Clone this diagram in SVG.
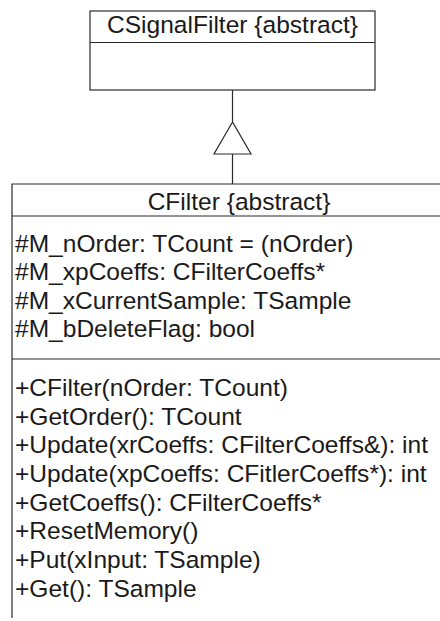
<svg xmlns="http://www.w3.org/2000/svg" width="440" height="621" viewBox="0 0 440 621">
  <style>
    .box { fill: #ffffff; stroke: #2a2a2a; stroke-width: 1.2; }
    .line { fill: none; stroke: #2a2a2a; stroke-width: 1.2; }
    .txt { font-family: "Liberation Sans", Arial, sans-serif; font-size: 23.5px; fill: #1a1a1a; }
    .title { text-anchor: middle; }
  </style>
  <rect width="440" height="621" fill="#ffffff"/>

  <!-- base class -->
  <g id="CSignalFilter">
    <rect class="box" x="90" y="11" width="285" height="79"/>
    <line class="line" x1="90" y1="42.5" x2="375" y2="42.5"/>
    <text class="txt title" transform="translate(232.5 33) scale(1.045 1)">CSignalFilter {abstract}</text>
  </g>

  <!-- derived class, running off the right and bottom edges -->
  <g id="CFilter">
    <path class="line" d="M470,184 H12 V618"/>
    <line class="line" x1="12" y1="216" x2="470" y2="216"/>
    <line class="line" x1="12" y1="359" x2="470" y2="359"/>
    <text class="txt title" transform="translate(239 210) scale(1.045 1)">CFilter {abstract}</text>
    <g transform="translate(15 0) scale(1.045 1)">
      <text class="txt" x="0" y="252">#M_nOrder: TCount = (nOrder)</text>
      <text class="txt" x="0" y="280.5">#M_xpCoeffs: CFilterCoeffs*</text>
      <text class="txt" x="0" y="309">#M_xCurrentSample: TSample</text>
      <text class="txt" x="0" y="337.5">#M_bDeleteFlag: bool</text>
      <text class="txt" x="0" y="396">+CFilter(nOrder: TCount)</text>
      <text class="txt" x="0" y="424.7">+GetOrder(): TCount</text>
      <text class="txt" x="0" y="453.4">+Update(xrCoeffs: CFilterCoeffs&amp;): int</text>
      <text class="txt" x="0" y="482">+Update(xpCoeffs: CFitlerCoeffs*): int</text>
      <text class="txt" x="0" y="510.8">+GetCoeffs(): CFilterCoeffs*</text>
      <text class="txt" x="0" y="539.5">+ResetMemory()</text>
      <text class="txt" x="0" y="568.2">+Put(xInput: TSample)</text>
      <text class="txt" x="0" y="597">+Get(): TSample</text>
    </g>
  </g>

  <!-- generalization: CFilter inherits from CSignalFilter -->
  <g id="connectors">
    <line class="line" x1="232.5" y1="90" x2="232.5" y2="122"/>
    <polygon class="box" points="232.5,122 214,154 251,154"/>
    <line class="line" x1="232.5" y1="154" x2="232.5" y2="184"/>
  </g>
</svg>
